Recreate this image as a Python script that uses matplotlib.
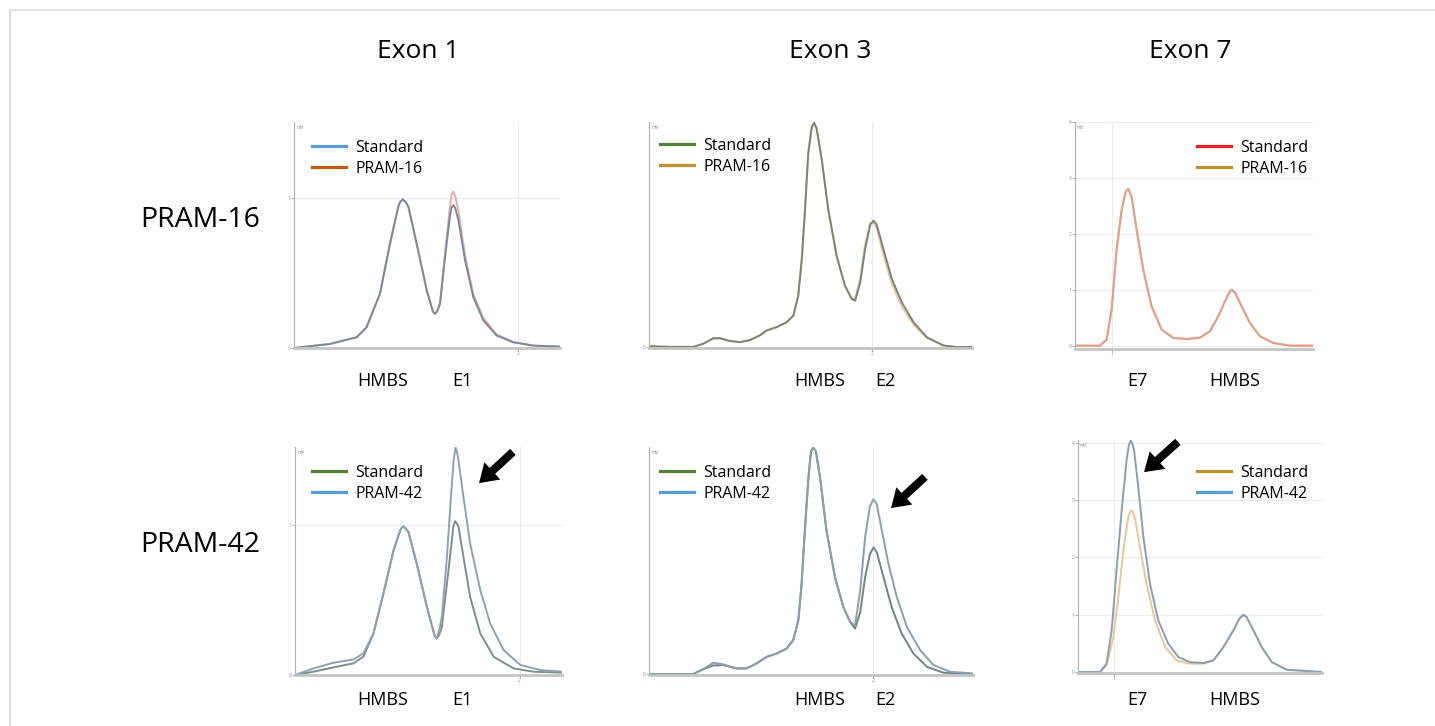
import matplotlib
matplotlib.use("Agg")
import matplotlib.pyplot as plt
from matplotlib.lines import Line2D
from matplotlib.patches import FancyArrowPatch

plt.rcParams["font.family"] = ["Open Sans", "DejaVu Sans"]

W, H = 1435, 726

# ---- data (x: 0-100 across each panel) ----
col_titles = ["Exon 1", "Exon 3", "Exon 7"]
row_titles = ["PRAM-16", "PRAM-42"]
peak_labels = [("HMBS", "E1"), ("HMBS", "E2"), ("E7", "HMBS")]

# Exon 1 / PRAM-16
e1_x = [0, 13.5, 23.6, 27.3, 32.3, 36.1, 39.2, 40.0, 40.9, 42.0, 43.0, 46.1, 49.9,
        52.2, 53.0, 53.8, 54.9, 56.8, 58.6, 59.2, 59.9, 60.6, 61.8, 64.3, 67.4,
        71.2, 76.2, 82.5, 90.0, 100]
e1_std = [0, 0.027, 0.072, 0.139, 0.362, 0.698, 0.944, 0.978, 0.993, 0.975, 0.944,
          0.698, 0.385, 0.245, 0.228, 0.245, 0.295, 0.609, 0.877, 0.935, 0.955,
          0.935, 0.855, 0.586, 0.340, 0.183, 0.083, 0.038, 0.016, 0.009]
e1_p16 = [0, 0.027, 0.072, 0.139, 0.362, 0.698, 0.944, 0.978, 0.993, 0.975, 0.944,
          0.698, 0.385, 0.245, 0.228, 0.245, 0.300, 0.640, 0.940, 1.020, 1.045,
          1.015, 0.915, 0.620, 0.360, 0.200, 0.090, 0.040, 0.016, 0.009]

# Exon 1 / PRAM-42
e1b_x_std = [0, 6.9, 14.4, 21.9, 25.6, 29.4, 33.1, 36.9, 39.4, 40.0, 40.6, 41.4,
             42.5, 45.6, 49.4, 52.3, 53.1, 54.0, 55.0, 56.9, 58.75, 59.3, 60.0,
             60.7, 61.25, 63.1, 65.6, 69.4, 74.4, 81.9, 89.4, 100]
e1b_std = [0, 0.022, 0.051, 0.078, 0.122, 0.278, 0.544, 0.833, 0.967, 0.985, 0.993,
           0.980, 0.956, 0.744, 0.456, 0.262, 0.244, 0.268, 0.322, 0.611, 0.900,
           0.995, 1.029, 1.010, 0.989, 0.789, 0.522, 0.278, 0.122, 0.044, 0.022,
           0.016]
e1b_x_p42 = [0, 6.9, 14.4, 21.9, 25.6, 29.4, 33.1, 36.9, 39.4, 40.0, 40.6, 41.4,
             42.5, 45.6, 49.4, 52.3, 53.1, 54.0, 55.0, 56.9, 58.4, 59.4, 60.1,
             60.7, 61.25, 63.1, 65.6, 69.4, 73.1, 78.1, 84.4, 91.9, 100]
e1b_p42 = [0, 0.044, 0.082, 0.104, 0.144, 0.278, 0.544, 0.833, 0.967, 0.985, 0.993,
           0.980, 0.956, 0.744, 0.456, 0.262, 0.244, 0.300, 0.389, 0.789, 1.189,
           1.433, 1.522, 1.490, 1.433, 1.189, 0.878, 0.567, 0.344, 0.167, 0.067,
           0.033, 0.022]

# Exon 3 / PRAM-16
e3_x = [0, 6.4, 13.7, 16.8, 19.9, 21.9, 25.0, 28.1, 31.2, 34.3, 36.4, 39.5, 42.6,
        44.7, 46.2, 47.3, 48.3, 49.3, 50.4, 51.1, 51.9, 53.5, 55.5, 58.1, 60.7,
        62.8, 63.8, 65.4, 66.9, 68.5, 69.5, 70.5, 72.6, 75.2, 78.3, 81.9, 86.0,
        91.2, 95.3, 100]
e3_std = [0.004, 0.001, 0.001, 0.015, 0.040, 0.040, 0.028, 0.022, 0.031, 0.052,
          0.074, 0.089, 0.111, 0.140, 0.229, 0.391, 0.613, 0.864, 0.982, 1.0,
          0.975, 0.835, 0.613, 0.406, 0.273, 0.214, 0.207, 0.288, 0.436, 0.547,
          0.564, 0.547, 0.436, 0.303, 0.199, 0.111, 0.044, 0.007, 0.0, 0.001]
e3_p16 = [0.004, 0.001, 0.001, 0.015, 0.036, 0.038, 0.026, 0.022, 0.031, 0.052,
          0.074, 0.089, 0.111, 0.140, 0.229, 0.391, 0.613, 0.864, 0.982, 1.0,
          0.975, 0.835, 0.613, 0.406, 0.273, 0.214, 0.215, 0.310, 0.460, 0.550,
          0.555, 0.530, 0.410, 0.280, 0.180, 0.100, 0.040, 0.007, 0.0, 0.001]

# Exon 3 / PRAM-42
e3b_x_std = [0, 6.4, 13.6, 16.7, 19.8, 22.9, 27.0, 30.1, 33.2, 36.3, 39.4, 42.5,
             44.5, 46.1, 47.1, 48.1, 49.2, 50.0, 50.7, 51.5, 52.8, 54.8, 57.4,
             60.0, 62.1, 63.6, 65.2, 66.7, 68.2, 69.3, 70.3, 72.4, 74.9, 78.0,
             81.6, 85.8, 90.9, 100]
e3b_std = [0, 0, 0, 0.021, 0.038, 0.040, 0.025, 0.025, 0.047, 0.076, 0.091, 0.113,
           0.150, 0.238, 0.399, 0.633, 0.868, 0.985, 1.0, 0.985, 0.868, 0.633,
           0.428, 0.296, 0.230, 0.201, 0.274, 0.428, 0.531, 0.560, 0.538, 0.428,
           0.296, 0.179, 0.091, 0.032, 0.006, 0]
e3b_x_p42 = [0, 6.4, 13.6, 16.7, 19.8, 22.9, 27.0, 30.1, 33.2, 36.3, 39.4, 42.5,
             44.5, 46.1, 47.1, 48.1, 49.2, 50.0, 50.7, 51.5, 52.8, 54.8, 57.4,
             60.0, 62.1, 63.6, 65.2, 66.7, 68.2, 69.3, 70.3, 71.9, 73.9, 76.5,
             79.6, 83.7, 87.8, 93.0, 100]
e3b_p42 = [0, 0, 0, 0.021, 0.050, 0.043, 0.025, 0.025, 0.047, 0.076, 0.091, 0.113,
           0.150, 0.238, 0.399, 0.633, 0.868, 0.985, 1.0, 0.985, 0.868, 0.633,
           0.428, 0.296, 0.230, 0.216, 0.370, 0.604, 0.743, 0.773, 0.751, 0.633,
           0.487, 0.340, 0.208, 0.106, 0.040, 0.010, 0.003]

# Exon 7 / PRAM-16 (both traces coincide)
e7_x = [0, 2.1, 10.5, 13.3, 15.4, 17.5, 19.6, 21.3, 22.4, 23.8, 25.9, 28.7, 32.2,
        36.4, 41.3, 47.0, 52.5, 56.7, 60.2, 63.0, 65.1, 65.9, 67.2, 70.0, 73.5,
        77.7, 83.3, 90.3, 100]
e7_std = [0, 0, 0, 0.107, 0.643, 1.714, 2.429, 2.756, 2.804, 2.667, 2.071, 1.357,
          0.702, 0.286, 0.137, 0.119, 0.143, 0.256, 0.524, 0.792, 0.970, 1.0,
          0.952, 0.702, 0.405, 0.167, 0.048, 0, 0]
e7_p16 = [0, 0, 0, 0.110, 0.650, 1.720, 2.430, 2.760, 2.800, 2.660, 2.060, 1.350,
          0.700, 0.286, 0.137, 0.119, 0.143, 0.256, 0.524, 0.792, 0.970, 1.0,
          0.952, 0.702, 0.405, 0.167, 0.048, 0, 0]

# Exon 7 / PRAM-42
e7b_x_std = [0, 9.0, 11.7, 14.5, 16.5, 18.6, 20.6, 21.3, 22.0, 22.7, 23.4, 25.4,
             28.1, 31.6, 35.7, 40.4, 45.9, 51.4, 55.5, 59.6, 63.7, 66.1, 67.8,
             69.1, 71.9, 75.3, 79.4, 85.5, 100]
e7b_std = [0, 0, 0.116, 0.610, 1.308, 2.122, 2.703, 2.790, 2.820, 2.770, 2.674,
           2.180, 1.541, 0.901, 0.436, 0.203, 0.145, 0.145, 0.203, 0.436, 0.727,
           0.930, 1.0, 0.959, 0.727, 0.436, 0.174, 0.041, 0]
e7b_x_p42 = [0, 9.0, 11.7, 13.8, 15.8, 17.9, 19.9, 20.8, 21.6, 22.3, 23.0, 24.7,
             26.8, 29.5, 32.9, 37.0, 41.1, 45.9, 51.4, 55.5, 59.6, 63.7, 66.1,
             67.8, 69.1, 71.9, 75.3, 79.4, 85.5, 100]
e7b_p42 = [0, 0, 0.145, 0.727, 1.773, 2.820, 3.692, 3.950, 4.041, 3.990, 3.866,
           3.227, 2.355, 1.541, 0.901, 0.494, 0.262, 0.174, 0.157, 0.203, 0.436,
           0.727, 0.930, 1.0, 0.959, 0.727, 0.436, 0.174, 0.041, 0]

BLUE, ORANGE, GREEN, GOLD, RED = "#5b9bd5", "#c55a11", "#548235", "#c0922f", "#ee1c25"

# panel boxes in pixels: left, right, top, bottom
panels = [
    dict(box=(294, 560, 122, 348), ylim=(0, 1.51), yticks=[0, 1], xtick=84.2,
         curves=[(e1_x, e1_p16, "#e9a9a4"), (e1_x, e1_std, "#7b8b9c")],
         legend=[("Standard", BLUE), ("PRAM-16", ORANGE)], leg=(312, 140)),
    dict(box=(649, 972, 122, 348), ylim=(-0.004, 1.004), yticks=[0], xtick=69.0,
         curves=[(e3_x, e3_p16, "#e3cba3"), (e3_x, e3_std, "#7c8479")],
         legend=[("Standard", GREEN), ("PRAM-16", GOLD)], leg=(660, 138)),
    dict(box=(1075, 1313, 122, 349), ylim=(-0.06, 4.0), yticks=[0, 1, 2, 3, 4], xtick=15.5,
         curves=[(e7_x, e7_p16, "#e9b08e"), (e7_x, e7_std, "#e39f8a")],
         legend=[("Standard", RED), ("PRAM-16", GOLD)], leg=(1197, 140)),
    dict(box=(295, 562, 447, 675), ylim=(0, 1.525), yticks=[0, 1], xtick=84.1,
         curves=[(e1b_x_std, e1b_std, "#7c8f8a"), (e1b_x_p42, e1b_p42, "#8ea2b3")],
         legend=[("Standard", GREEN), ("PRAM-42", BLUE)], leg=(312, 465)),
    dict(box=(649, 973, 447, 675), ylim=(-0.004, 1.004), yticks=[0], xtick=69.1,
         curves=[(e3b_x_std, e3b_std, "#718580"), (e3b_x_p42, e3b_p42, "#8a9eae")],
         legend=[("Standard", GREEN), ("PRAM-42", BLUE)], leg=(660, 465)),
    dict(box=(1078, 1322, 440, 673), ylim=(-0.017, 4.05), yticks=[0, 1, 2, 3, 4], xtick=14.8,
         curves=[(e7b_x_std, e7b_std, "#ebc59c"), (e7b_x_p42, e7b_p42, "#8b9fb2")],
         legend=[("Standard", GOLD), ("PRAM-42", BLUE)], leg=(1197, 465)),
]

arrows = [((515, 450), (477, 485)), ((927, 475), (889, 510)), ((1180, 440), (1142, 474))]


def fx(px):
    return px / W


def fy(py):
    return 1 - py / H


fig = plt.figure(figsize=(W / 100, H / 100), dpi=100)

# light frame around the figure (top and left edges)
fig.add_artist(Line2D([fx(10), 1], [fy(10), fy(10)], color="#d9d9d9", lw=1.2))
fig.add_artist(Line2D([fx(10), fx(10)], [fy(10), 0], color="#d9d9d9", lw=1.2))

for i, p in enumerate(panels):
    l, r, t, b = p["box"]
    ax = fig.add_axes([fx(l), fy(b), (r - l) / W, (b - t) / H])
    for x, y, c in p["curves"]:
        ax.plot(x, y, color=c, lw=1.4, solid_joinstyle="round", solid_capstyle="round")
    ax.set_xlim(0, 100)
    ax.set_ylim(*p["ylim"])
    ax.set_yticks(p["yticks"])
    ax.set_yticklabels([str(v) for v in p["yticks"]])
    ax.set_xticks([p["xtick"]])
    ax.set_xticklabels(["2" if i % 3 < 2 else "1"])
    ax.tick_params(length=2, width=0.5, pad=0.5, labelsize=3.5, colors="#8c8c8c")
    ax.grid(True, color="#ececec", lw=0.8)
    ax.set_axisbelow(True)
    for s in ("top", "right"):
        ax.spines[s].set_visible(False)
    ax.spines["left"].set_color("#b0b0b0")
    ax.spines["left"].set_linewidth(0.8)
    ax.spines["bottom"].set_color("#c4c4c4")
    ax.spines["bottom"].set_linewidth(2)
    ax.text(0.008, 0.985, "mV", transform=ax.transAxes, fontsize=3.5,
            color="#8c8c8c", va="top")
    handles = [Line2D([], [], color=c, lw=2.3) for _, c in p["legend"]]
    lx, ly = p["leg"]
    ax.legend(handles, [n for n, _ in p["legend"]], loc="upper left",
              bbox_to_anchor=(fx(lx), fy(ly)), bbox_transform=fig.transFigure,
              frameon=False, fontsize=11.5, handlelength=2.1, handletextpad=0.6,
              labelspacing=0.3, borderpad=0, borderaxespad=0)

# column titles and row titles
for x, s in zip([418, 830, 1190], col_titles):
    fig.text(fx(x), fy(52), s, ha="center", va="center", fontsize=19)
for y, s in zip([220, 545], row_titles):
    fig.text(fx(200), fy(y), s, ha="center", va="center", fontsize=20.5)

# peak labels under each panel
label_x = [(383, 462), (820, 885), (1137, 1235)]
for row_y in (381, 700):
    for (xa, xb), (sa, sb) in zip(label_x, peak_labels):
        fig.text(fx(xa), fy(row_y), sa, ha="center", va="center", fontsize=13)
        fig.text(fx(xb), fy(row_y), sb, ha="center", va="center", fontsize=13)

for (x0, y0), (x1, y1) in arrows:
    fig.add_artist(FancyArrowPatch(
        (fx(x0), fy(y0)), (fx(x1), fy(y1)), transform=fig.transFigure,
        arrowstyle="simple,head_length=1.0,head_width=1.3,tail_width=0.45",
        mutation_scale=13, color="black", lw=0))

fig.savefig("out.png", dpi=100)
